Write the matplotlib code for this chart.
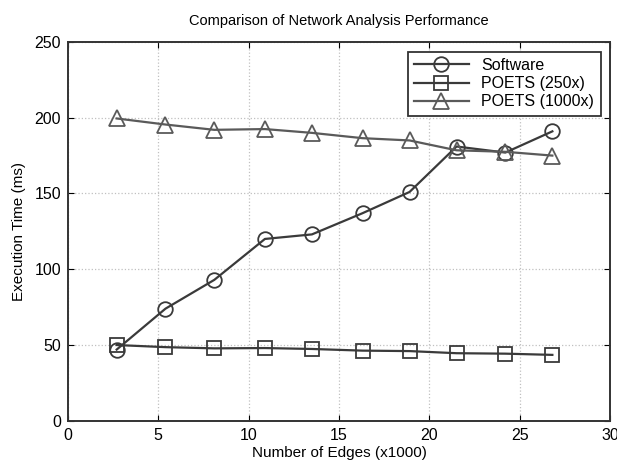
import numpy as np
import matplotlib.pyplot as plt

plt.rcParams['font.family'] = ['Liberation Sans', 'DejaVu Sans']

# data
edges = [2.7, 5.4, 8.1, 10.9, 13.5, 16.3, 18.9, 21.5, 24.2, 26.8]  # x1000
software = [47, 74, 93, 120, 123, 137, 151, 181, 177, 191]
poets_250 = [50, 48.6, 47.8, 48, 47.4, 46.3, 46, 44.6, 44.3, 43.5]
poets_1000 = [199.5, 195.5, 192, 192.5, 190, 186.5, 185, 178.5, 177.5, 175]

fig = plt.figure(figsize=(6.17, 4.66), dpi=100)
ax = fig.add_axes([0.110, 0.097, 0.879, 0.813])

ax.plot(edges, software, color='#3a3a3a', lw=1.6, marker='o', ms=10.5,
        mfc='none', mew=1.3, label='Software')
ax.plot(edges, poets_250, color='#3a3a3a', lw=1.6, marker='s', ms=9.5,
        mfc='none', mew=1.3, label='POETS (250x)')
ax.plot(edges, poets_1000, color='#5a5a5a', lw=1.6, marker='^', ms=11.5,
        mfc='none', mew=1.3, label='POETS (1000x)')

ax.set_xlim(0, 30)
ax.set_ylim(0, 250)
ax.set_xticks(np.arange(0, 31, 5))
ax.set_yticks(np.arange(0, 251, 50))
ax.grid(True, linestyle=':', color='#c0c0c0', lw=0.9)
ax.tick_params(direction='in', top=True, right=True, labelsize=11.5, length=4, pad=5)
for s in ax.spines.values():
    s.set_linewidth(1.4)
    s.set_color('#333333')

ax.set_title('Comparison of Network Analysis Performance', fontsize=10.5, pad=12)
ax.set_xlabel('Number of Edges (x1000)', fontsize=11, labelpad=2)
ax.set_ylabel('Execution Time (ms)', fontsize=11, labelpad=6)

leg = ax.legend(loc='upper right', fontsize=11.5, fancybox=False, framealpha=1,
                edgecolor='#333333', handlelength=3.4, borderpad=0.4,
                labelspacing=0.2, borderaxespad=0.6)
leg.get_frame().set_linewidth(1.3)

fig.savefig('out.png', dpi=100)
